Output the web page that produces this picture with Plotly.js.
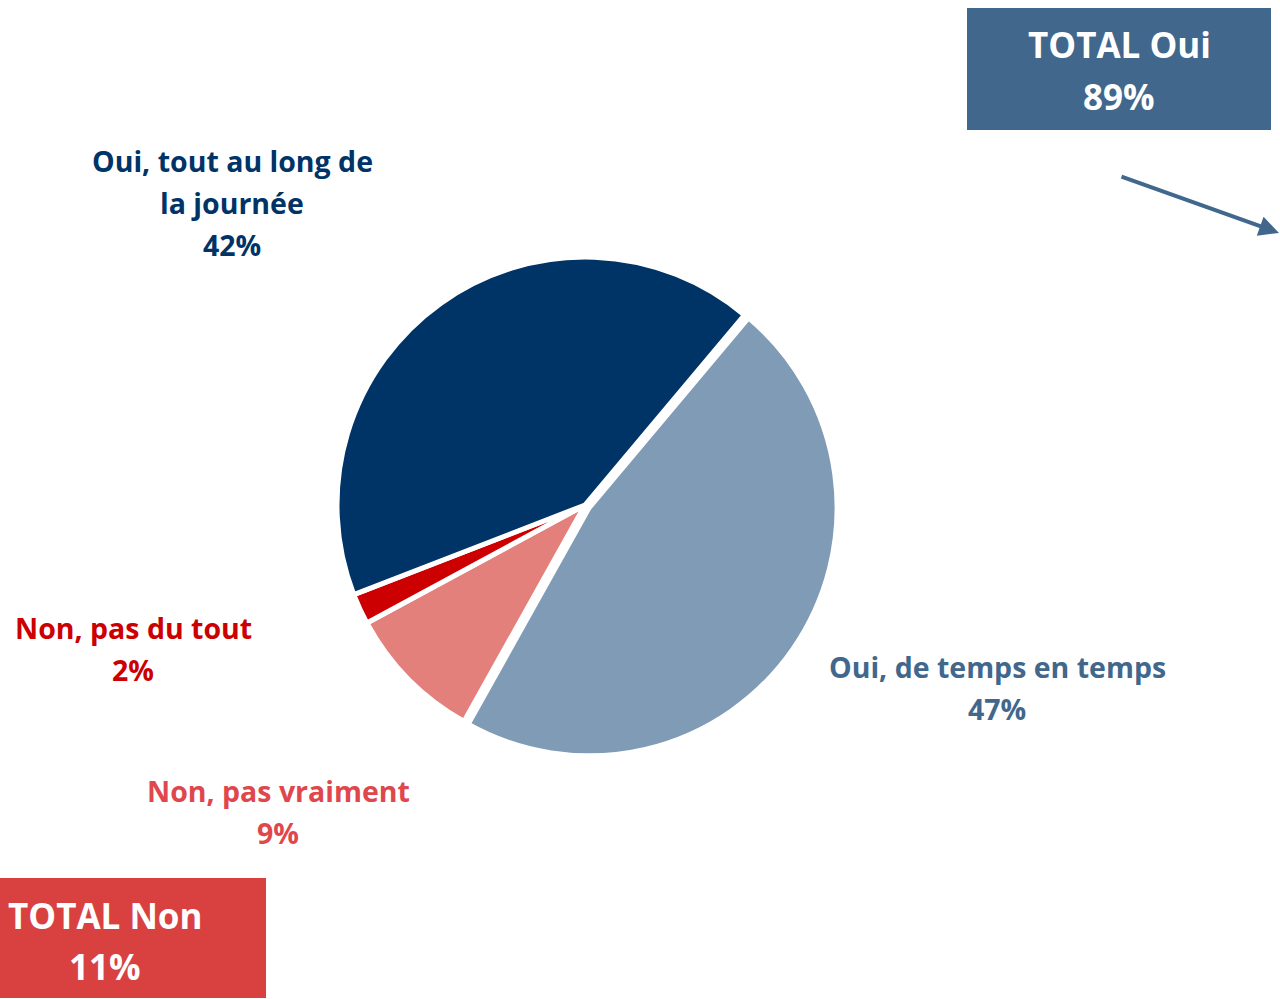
<!DOCTYPE html>
<html>
<head>
<meta charset="utf-8">
<script src="https://cdn.plot.ly/plotly-3.0.1.min.js"></script>
<style>html,body{margin:0;padding:0;background:#fff;}#chart{width:1280px;height:999px;}</style>
</head>
<body>
<div id="chart"></div>
<script>
// ---- data ----
const categories = ["Oui, de temps en temps", "Non, pas vraiment", "Non, pas du tout", "Oui, tout au long de la journée"];
const values = [47, 9, 2, 42];
const labelLines = [["Oui, de temps en temps"], ["Non, pas vraiment"], ["Non, pas du tout"], ["Oui, tout au long de", "la journée"]];
const sliceColors = ["#7F9BB5", "#E4807C", "#CC0000", "#003366"];
const textColors = ["#41678D", "#E0474C", "#CC0000", "#003366"];
const totalOuiLabel = "TOTAL Oui";
const totalNonLabel = "TOTAL Non";
const totalOui = values[0] + values[3];
const totalNon = values[1] + values[2];

// ---- layout helpers ----
const W = 1280, H = 999;
const fx = x => x / W;
const fy = y => 1 - y / H;
const FONT = "'Open Sans', Lato, sans-serif";

const cx = 585, cy = 505, r = 248, maxPull = 0.02;
const half = r * (1 + maxPull);

const trace = {
  type: "pie",
  values: values,
  labels: categories,
  sort: false,
  direction: "clockwise",
  rotation: 40,
  pull: [0.02, 0, 0, 0],
  textinfo: "none",
  hoverinfo: "label+percent",
  marker: {colors: sliceColors, line: {color: "#ffffff", width: 5}},
  domain: {x: [fx(cx - half), fx(cx + half)], y: [fy(cy + half), fy(cy - half)]},
  showlegend: false
};

// label anchor centres (px): centre x, first line y
const labelPos = [[997, 667], [278, 791], [133, 628], [232, 161]];
const lineGap = 42;
const annotations = [];
categories.forEach((c, i) => {
  const lines = labelLines[i].concat([values[i] + "%"]);
  lines.forEach((t, k) => {
    annotations.push({
      x: fx(labelPos[i][0]), y: fy(labelPos[i][1] + k * lineGap),
      xref: "paper", yref: "paper", xanchor: "center", yanchor: "middle",
      text: "<b>" + t + "</b>", showarrow: false,
      font: {family: FONT, size: 28.5, color: textColors[i]}
    });
  });
});

// total boxes
const boxes = [
  {rect: [967, 8, 1271, 130], color: "#41678D", lines: [totalOuiLabel, totalOui + "%"], cxp: 1119, y0: 45},
  {rect: [0, 878, 266, 998], color: "#D94141", lines: [totalNonLabel, totalNon + "%"], cxp: 105, y0: 915}
];
const shapes = [];
boxes.forEach(b => {
  shapes.push({type: "rect", xref: "paper", yref: "paper",
    x0: fx(b.rect[0]), x1: fx(b.rect[2]), y0: fy(b.rect[3]), y1: fy(b.rect[1]),
    fillcolor: b.color, line: {width: 0}, layer: "below"});
  b.lines.forEach((t, k) => {
    annotations.push({
      x: fx(b.cxp), y: fy(b.y0 + k * 51), xref: "paper", yref: "paper",
      xanchor: "center", yanchor: "middle", showarrow: false,
      text: "<b>" + t + "</b>", font: {family: FONT, size: 35, color: "#ffffff"}
    });
  });
});

// arrow
annotations.push({
  x: fx(1280), y: fy(233), xref: "paper", yref: "paper",
  ax: -160, ay: -57, axref: "pixel", ayref: "pixel",
  showarrow: true, arrowhead: 2, arrowsize: 1, arrowwidth: 4, arrowcolor: "#41678D", text: ""
});

const layout = {
  width: W, height: H,
  margin: {l: 0, r: 0, t: 0, b: 0},
  paper_bgcolor: "#ffffff", plot_bgcolor: "#ffffff",
  showlegend: false,
  shapes: shapes,
  annotations: annotations
};

Plotly.newPlot("chart", [trace], layout, {displayModeBar: false, staticPlot: true});
</script>
</body>
</html>
